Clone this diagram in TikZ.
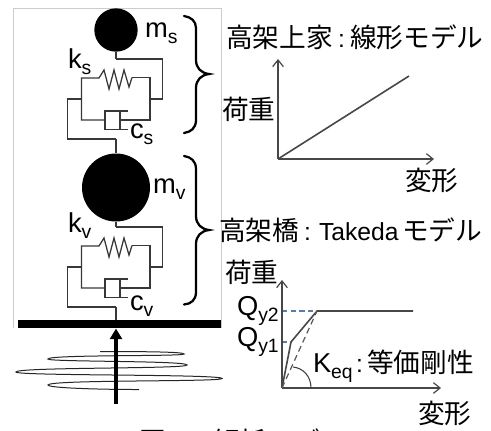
\documentclass[tikz,border=0pt]{standalone}
\usepackage{fontspec}
\setmainfont{Liberation Sans}
\newfontfamily\cjkf{Noto Sans CJK JP}
\usetikzlibrary{arrows.meta}
\definecolor{guidec}{RGB}{90,125,165}
\newcommand{\lsub}[1]{\raisebox{-5pt}{\fontsize{14.5}{15}\selectfont #1}}
\tikzset{
  x=0.75pt,y=-0.75pt,
  lat/.style={anchor=base west,inner sep=0pt,outer sep=0pt,font=\fontsize{20.5}{22}\selectfont},
  tkd/.style={anchor=base west,inner sep=0pt,outer sep=0pt,font=\fontsize{18.5}{20}\selectfont},
  jp/.style={anchor=base west,inner sep=0pt,outer sep=0pt,font=\fontsize{20}{21}\selectfont\cjkf},
  wire/.style={draw=black!78,line width=0.95pt,line join=miter},
  mass/.style={circle,fill=black,draw=none,inner sep=0pt,minimum size=#1},
  brace/.style={draw=black,line width=1.7pt,line cap=round},
  axis/.style={draw=black!72,line width=1.1pt,-{Straight Barb[length=5pt,width=8pt,line width=0.9pt]}},
  curveline/.style={draw=black!72,line width=1.2pt},
  guide/.style={draw=guidec,line width=0.8pt,dash pattern=on 4pt off 2.5pt},
}
\newcommand{\unit}[2]{%
  \begin{scope}[yshift=#1]
  \coordinate (#2rt) at (162.5,59);
  \coordinate (#2top) at (116,59);
  \draw[wire] (#2top) -- (#2rt) |- (150,99);
  \draw[wire] (132,77.5) -- (150,77.5) -- (150,120) -- (120,120);
  \draw[wire] (132,77.5) -- (129,87) -- (124,70) -- (119,89) -- (114,70) -- (109,89) -- (104,70) -- (99,78) -- (81.5,78) -- (81.5,120) -- (105,120);
  \draw[wire] (128,111) -- (105,111) -- (105,129.5) -- (128,129.5);
  \draw[wire] (120,111) -- (120,129.5);
  \draw[wire] (81.5,99) -- (67.5,99) -- (67.5,139) -- (116,139);
  \end{scope}}
\begin{document}
\begin{tikzpicture}
\useasboundingbox (0,0) rectangle (491,430);
\clip (0,0) rectangle (491,430);
\fill[white] (0,0) rectangle (491,430);
\draw[black!20,line width=0.6pt] (13.5,328) |- (221,8) -- (221,328);
\node[mass=32.5pt] (ms) at (116,30) {};
\node[mass=51pt] (mv) at (116,187.5) {};
\unit{0}{a}
\unit{-126pt}{b}
\coordinate (ajoin) at (116,139);
\coordinate (bjoin) at (116,307);
\coordinate (atop) at (116,59);
\coordinate (btop) at (116,227);
\node[fill=black,minimum width=152.25pt,minimum height=6pt,inner sep=0pt,anchor=north west] (ground) at (18,320) {};
\draw[wire] (ms.south) -- (atop);
\draw[wire] (ajoin) -- (mv.north);
\draw[wire] (mv.south) -- (btop);
\draw[wire] (bjoin) -- (116,320);
\draw[draw=black!85,line width=0.75pt] (100,351.5)
  .. controls (150,351.5) and (184,352) .. (184,354)
  .. controls (184,356.5) and (48,354.5) .. (48,359)
  .. controls (48,362) and (187,360.5) .. (187,365)
  .. controls (187,369) and (16,367) .. (16,372)
  .. controls (16,376) and (222,374) .. (222,378.5)
  .. controls (222,382) and (48,379.5) .. (48,385)
  .. controls (48,388) and (100,389.5) .. (139,389.5);
\coordinate (arrowfoot) at (116,404);
\draw[line width=2.7pt,draw=black,-{Triangle[length=8pt,width=9pt]}] (arrowfoot) -- (ground.south -| arrowfoot);
\draw[brace] (184,133) .. controls (191,132) and (196,128) .. (196,120) -- (196,88) .. controls (196,80) and (201,75) .. (209,74) .. controls (201,73) and (196,68) .. (196,60) -- (196,28) .. controls (196,21) and (191,17) .. (184,16);
\draw[brace] (184,304.5) .. controls (191,304) and (196,300) .. (196,292) -- (196,244) .. controls (196,236) and (201,231) .. (209,230) .. controls (201,229) and (196,224) .. (196,216) -- (196,169) .. controls (196,161) and (191,157) .. (184,156);
\node[lat] (lms) at (145,37) {m\lsub{s}};
\node[lat] (lks) at (68,68) {k\lsub{s}};
\node[lat] (lcs) at (130,138) {c\lsub{s}};
\node[lat] (lmv) at (153,193) {m\lsub{v}};
\node[lat] (lkv) at (68,232) {k\lsub{v}};
\node[lat] (lcv) at (130,310) {c\lsub{v}};
\coordinate (o1) at (278,159);
\coordinate (y1) at (278,59);
\coordinate (x1) at (434,159);
\coordinate (e1) at (409,76);
\draw[axis] (o1) -- (y1);
\draw[axis] (o1) -- (x1);
\draw[curveline] (o1) -- (e1);
\node[jp] (t1a) at (226,47) {高架上家};
\node[tkd] (t1c) at (338,47) {:};
\node[jp] (t1b) at (350,47) {線形モデル};
\node[jp] (l1) at (222,119) {荷重};
\node[jp] (d1) at (405,190.5) {変形};
\coordinate (o2) at (282,388);
\coordinate (y2) at (282,280);
\coordinate (x2) at (441,388);
\coordinate (p1) at (291,342);
\coordinate (p2) at (317,311);
\coordinate (p3) at (413,311);
\draw[guide] (y2 |- p2) -- (p2);
\draw[guide] (y2 |- p1) -- (p1);
\draw[axis] (o2) -- (y2);
\draw[axis] (o2) -- (x2);
\draw[curveline] (o2) -- (p1) -- (p2) -- (p3);
\draw[draw=black!65,line width=0.9pt,dash pattern=on 4.5pt off 3pt] (o2) -- (p2);
\draw[draw=black!75,line width=0.8pt] (293,367) .. controls (303,368) and (311,376) .. (311,388);
\node[jp] (t2a) at (219,240) {高架橋};
\node[tkd] (t2c) at (304,240) {:};
\node[tkd] (t2b) at (319,240) {Takeda};
\node[jp] (t2d) at (402,240) {モデル};
\node[jp] (l2) at (225,282) {荷重};
\node[lat] (q2) at (237,315) {Q\lsub{y2}};
\node[lat] (q1) at (237,346) {Q\lsub{y1}};
\node[lat] (k) at (313,372) {K\lsub{eq}};
\node[tkd] (kc) at (356,372) {:};
\node[jp] (ktext) at (367,372) {等価剛性};
\node[jp] (d2) at (418,423) {変形};
\node[jp] (cap) at (139,451) {図 3　解析モデル};
\end{tikzpicture}
\end{document}
